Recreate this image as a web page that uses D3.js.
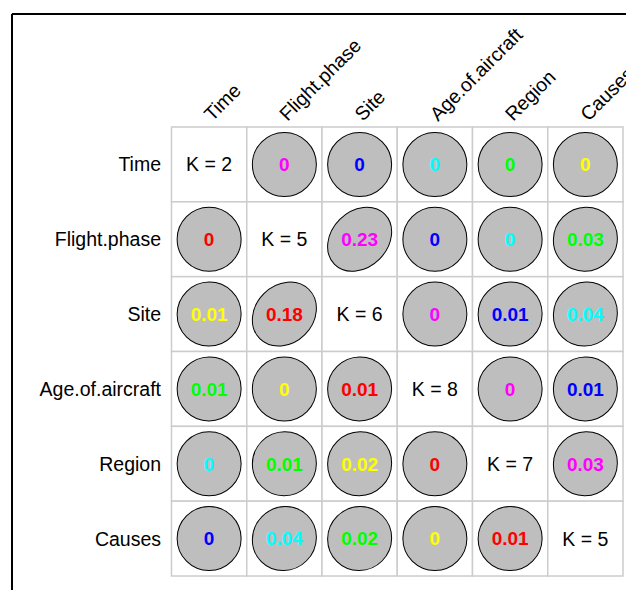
<!DOCTYPE html>
<html>
<head>
<meta charset="utf-8">
<script src="https://cdn.jsdelivr.net/npm/d3@7"></script>
<style>
  body { margin: 0; background: #fff; }
  svg text { font-family: "Liberation Sans", Arial, sans-serif; }
</style>
</head>
<body>
<div id="graph_draw"></div>
<script>
// variables of the matrix
var variables = ["Time", "Flight.phase", "Site", "Age.of.aircraft", "Region", "Causes"];
// number of classes, shown on the diagonal
var kValues = [2, 5, 6, 8, 7, 5];
// off diagonal values (row = variable, col = variable), null on the diagonal
var matrixValues = [
    [null, 0, 0, 0, 0, 0],
    [0, null, 0.23, 0, 0, 0.03],
    [0.01, 0.18, null, 0, 0.01, 0.04],
    [0.01, 0, 0.01, null, 0, 0.01],
    [0, 0.01, 0.02, 0, null, 0.03],
    [0, 0.04, 0.02, 0, 0.01, null]
];
// text colours cycle through off diagonal cells
var palette = ["#ff00ff", "#0000ff", "#00ffff", "#00ff00", "#ffff00", "#ff0000"];

var W = 626, H = 590;
var svg = d3.select("#graph_draw").append("svg")
    .attr("width", W)
    .attr("height", H);

// frame (only top and left visible)
svg.append("line").attr("x1", 12).attr("x2", W).attr("y1", 14).attr("y2", 14)
    .attr("stroke", "#000").attr("stroke-width", 2);
svg.append("line").attr("x1", 12).attr("x2", 12).attr("y1", 14).attr("y2", H)
    .attr("stroke", "#000").attr("stroke-width", 2);

// scales
var x = d3.scaleBand().domain(variables).range([171.5, 623]);
var y = d3.scaleBand().domain(variables).range([127, 576]);
var bw = x.bandwidth(), bh = y.bandwidth();
var r = 32;

// build the cells
var cells = [];
var k = 0;
matrixValues.forEach(function(row, i) {
    row.forEach(function(v, j) {
        var c = {row: variables[i], col: variables[j], value: v, diag: i === j};
        if (!c.diag) { c.color = palette[k % palette.length]; k++; }
        else c.k = kValues[i];
        cells.push(c);
    });
});

// grid
var grid = svg.append("g");
cells.forEach(function(c) {
    grid.append("rect")
        .attr("x", x(c.col)).attr("y", y(c.row))
        .attr("width", bw).attr("height", bh)
        .attr("fill", "#fff")
        .attr("stroke", "#cccccc")
        .attr("stroke-width", 1.5);
});

// ellipses
var off = cells.filter(function(c) { return !c.diag; });
svg.append("g").selectAll("ellipse")
    .data(off)
    .enter().append("ellipse")
    .attr("transform", function(d) {
        return "translate(" + (x(d.col) + bw / 2) + "," + (y(d.row) + bh / 2) + ") rotate(-45)";
    })
    .attr("rx", function(d) { return r * Math.sqrt(1 + d.value); })
    .attr("ry", function(d) { return r * Math.sqrt(1 - d.value); })
    .attr("fill", "#bebebe")
    .attr("stroke", "#000")
    .attr("stroke-width", 1);

// values
svg.append("g").selectAll("text")
    .data(off)
    .enter().append("text")
    .attr("x", function(d) { return x(d.col) + bw / 2; })
    .attr("y", function(d) { return y(d.row) + bh / 2; })
    .attr("dy", "0.36em")
    .attr("text-anchor", "middle")
    .attr("font-size", 19)
    .attr("font-weight", "bold")
    .attr("fill", function(d) { return d.color; })
    .text(function(d) { return d.value; });

// K on diagonal
svg.append("g").selectAll("text")
    .data(cells.filter(function(c) { return c.diag; }))
    .enter().append("text")
    .attr("x", function(d) { return x(d.col) + bw / 2; })
    .attr("y", function(d) { return y(d.row) + bh / 2; })
    .attr("dy", "0.36em")
    .attr("text-anchor", "middle")
    .attr("font-size", 19.5)
    .attr("fill", "#000")
    .text(function(d) { return "K = " + d.k; });

// row labels
svg.append("g").selectAll("text")
    .data(variables)
    .enter().append("text")
    .attr("x", 161)
    .attr("y", function(d) { return y(d) + bh / 2; })
    .attr("dy", "0.36em")
    .attr("text-anchor", "end")
    .attr("font-size", 19.5)
    .attr("fill", "#000")
    .text(function(d) { return d; });

// column labels, rotated
svg.append("g").selectAll("text")
    .data(variables)
    .enter().append("text")
    .attr("transform", function(d) {
        return "translate(" + (x(d) + bw / 2 + 3) + ",122) rotate(-45)";
    })
    .attr("font-size", 19.5)
    .attr("fill", "#000")
    .text(function(d) { return d; });
</script>
</body>
</html>
